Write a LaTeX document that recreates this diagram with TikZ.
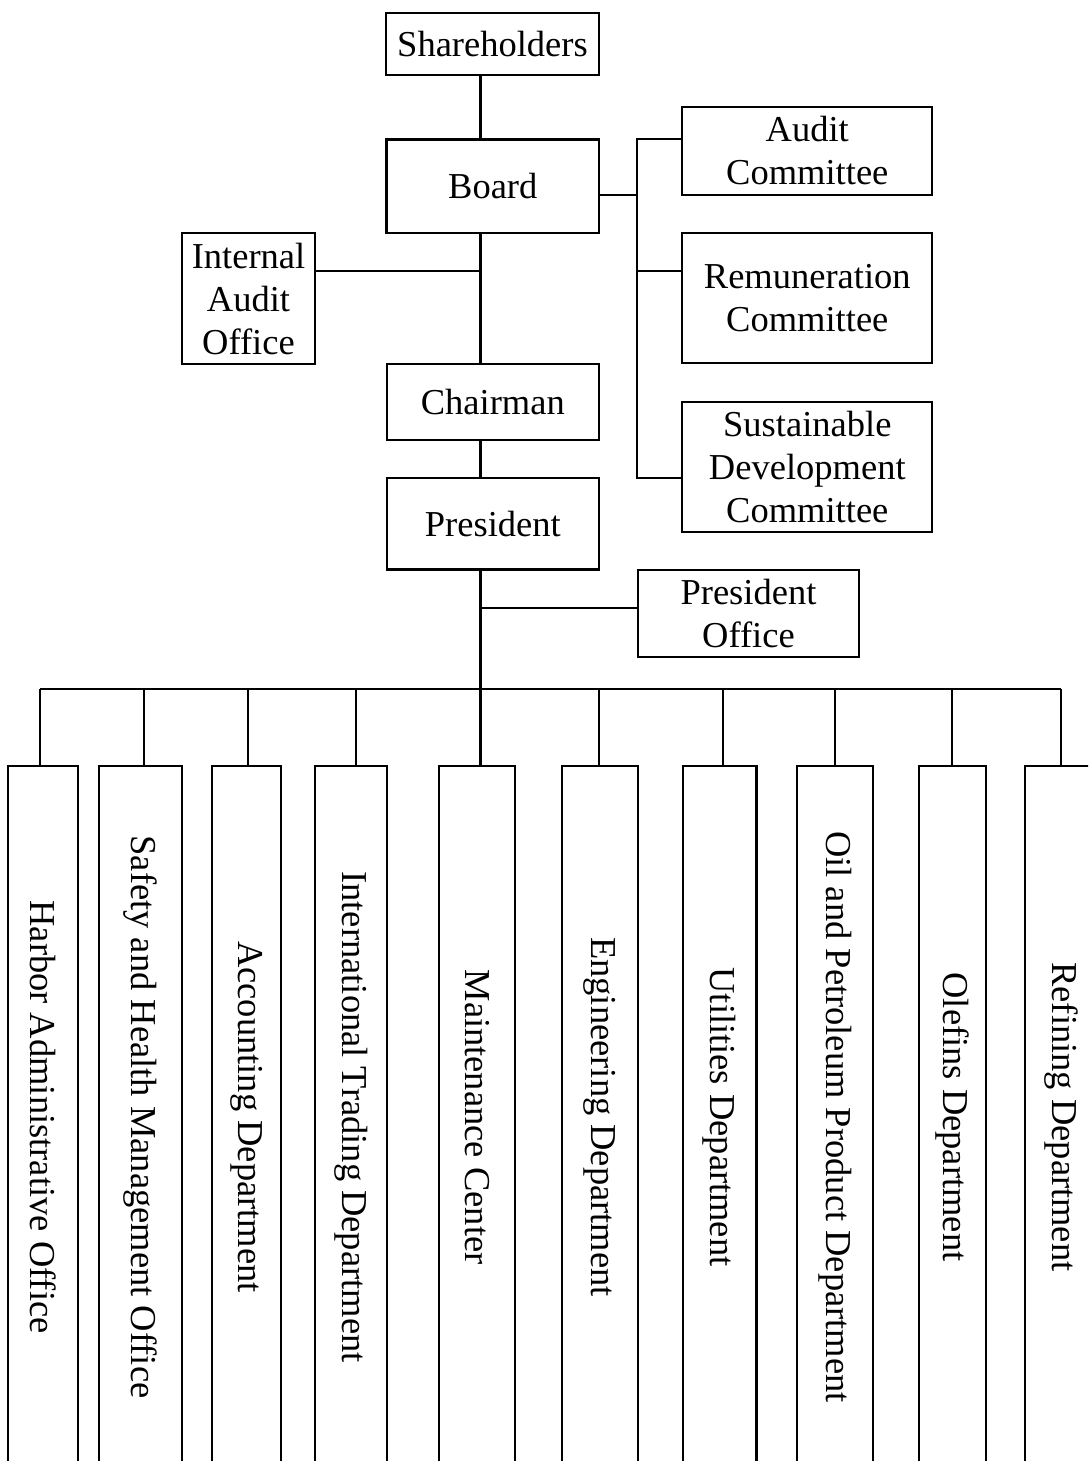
\documentclass[tikz,border=0pt]{standalone}
\usepackage{fontspec}
\setmainfont{Liberation Serif}
\usepackage{graphicx}
\usepackage{tikz}

\tikzset{
  unit/.style={draw, line width=2.2pt, inner sep=0pt, align=center,
    font=\fontsize{36.5pt}{43pt}\selectfont},
  dept/.style={unit, minimum height=702pt},
  link/.style={line width=2.2pt}
}

\begin{document}
\begin{tikzpicture}[x=1pt, y=-1pt]
\useasboundingbox (0,0) rectangle (1088,1461);
\clip (0,0) rectangle (1088,1461);

\node[unit, minimum width=213pt, minimum height=62.5pt] (sh) at (492.5,44) {Shareholders};
\node[unit, minimum width=212.5pt, minimum height=93.5pt] (board) at (492.75,186.25) {Board};
\node[unit, minimum width=133.6pt, minimum height=130.7pt] (iao) at (248.5,298.6) {Internal\\Audit\\Office};
\node[unit, minimum width=212.3pt, minimum height=76pt] (chair) at (492.85,402) {Chairman};
\node[unit, minimum width=212.3pt, minimum height=91.8pt] (pres) at (492.85,523.6) {President};
\node[unit, minimum width=250pt, minimum height=87.4pt] (ac) at (807.3,151) {Audit\\Committee};
\node[unit, minimum width=250pt, minimum height=130pt] (rc) at (807.3,298.3) {Remuneration\\Committee};
\node[unit, minimum width=250pt, minimum height=130.3pt] (sdc) at (807.3,466.85) {Sustainable\\Development\\Committee};
\node[unit, minimum width=221.6pt, minimum height=86.7pt] (po) at (748.5,613.35) {President\\Office};

\node[dept, minimum width=70.3pt] (d1) at (42.85,1117) {\rotatebox{-90}{Harbor Administrative Office}};
\node[dept, minimum width=83pt] (d2) at (140.5,1117) {\rotatebox{-90}{Safety and Health Management Office}};
\node[dept, minimum width=69pt] (d3) at (246.5,1117) {\rotatebox{-90}{Accounting Department}};
\node[dept, minimum width=72pt] (d4) at (351,1117) {\rotatebox{-90}{International Trading Department}};
\node[dept, minimum width=76pt] (d5) at (477,1117) {\rotatebox{-90}{Maintenance Center}};
\node[dept, minimum width=76pt] (d6) at (600,1117) {\rotatebox{-90}{Engineering Department}};
\node[dept, minimum width=73.5pt] (d7) at (719.75,1117) {\rotatebox{-90}{Utilities Department}};
\node[dept, minimum width=76.3pt] (d8) at (834.85,1117) {\rotatebox{-90}{Oil and Petroleum Product Department}};
\node[dept, minimum width=67.3pt] (d9) at (952.35,1117) {\rotatebox{-90}{Olefins Department}};
\node[dept, minimum width=72pt] (d10) at (1061,1117) {\rotatebox{-90}{Refining Department}};

\coordinate (tr) at (480.5,0);
\coordinate (ij) at (480.5,270.7);
\coordinate (pj) at (480.5,608.3);
\coordinate (bus) at (480.5,688.7);
\coordinate (bl) at (40,688.7);
\coordinate (br) at (1061,688.7);
\coordinate (bj) at (637.3,194.7);
\coordinate (c1) at (637.3,139.3);
\coordinate (c2) at (637.3,271);
\coordinate (c3) at (637.3,477.7);

\draw[link] (sh.south -| tr) -- (board.north -| tr);
\draw[link] (board.south -| tr) -- (chair.north -| tr);
\draw[link] (iao.east |- ij) -- (ij);
\draw[link] (chair.south -| tr) -- (pres.north -| tr);
\draw[link] (pres.south -| tr) -- (bus);
\draw[link] (pj) -- (po.west |- pj);

\draw[link] (board.east |- bj) -- (bj);
\draw[link] (ac.west |- c1) -- (c1) -- (c3) -- (sdc.west |- c3);
\draw[link] (c2) -- (rc.west |- c2);

\draw[link] (bl) -- (br);
\draw[link] (bl) -- (d1.north -| bl);
\draw[link] (bl -| 144,0) -- (d2.north -| 144,0);
\draw[link] (bl -| 248,0) -- (d3.north -| 248,0);
\draw[link] (bl -| 356,0) -- (d4.north -| 356,0);
\draw[link] (bus) -- (d5.north -| bus);
\draw[link] (bl -| 599,0) -- (d6.north -| 599,0);
\draw[link] (bl -| 722.7,0) -- (d7.north -| 722.7,0);
\draw[link] (bl -| 835,0) -- (d8.north -| 835,0);
\draw[link] (bl -| 952,0) -- (d9.north -| 952,0);
\draw[link] (br) -- (d10.north -| br);
\end{tikzpicture}
\end{document}
